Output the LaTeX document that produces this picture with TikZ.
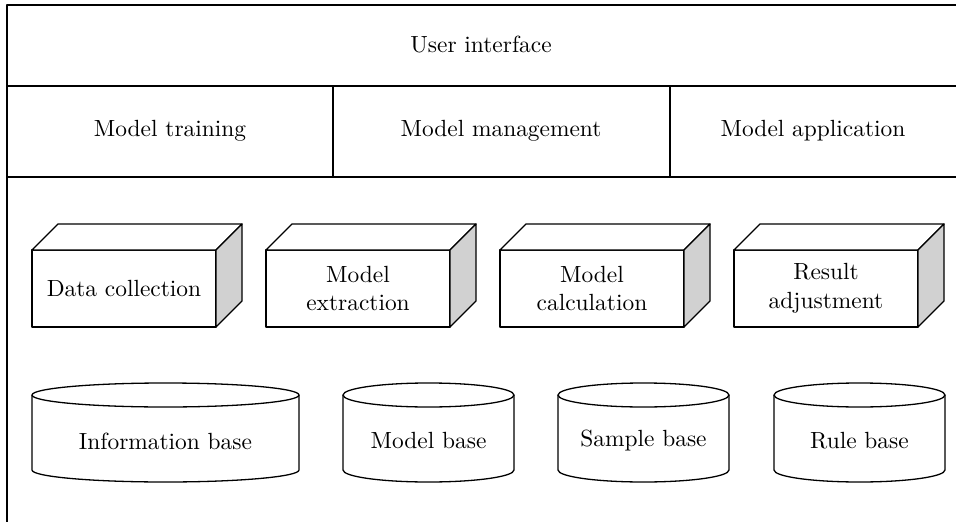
\documentclass[tikz,border=0pt]{standalone}
\usepackage{fontspec}
\newfontfamily\diagfont{lmroman10-regular.otf}
\begin{document}
\begin{tikzpicture}[
  x=1pt,
  y=-1pt,
  line join=round,
  frame line/.style={draw=black, line width=1.6pt},
  layer label/.style={font=\diagfont\fontsize{23.4}{28}\selectfont, inner sep=0pt},
  box front/.style={draw=black, fill=white, line width=1.3pt, outer sep=0pt,
    minimum width=184pt, minimum height=77pt, align=center,
    font=\diagfont\fontsize{23.4}{28.5}\selectfont},
  box top/.style={draw=black, fill=white, line width=1.3pt},
  box side/.style={draw=black, fill=black!18, line width=1.3pt},
  base drum/.style={draw=black, fill=white, line width=1.3pt}
]
  \useasboundingbox (0,0) rectangle (956,522);

  % Layered frame: interface on top, the three model functions below it.
  \draw[frame line] (956,5) -- (7,5) -- (7,522);
  \draw[frame line] (7,86) -- (956,86);
  \draw[frame line] (7,177) -- (956,177);
  \draw[frame line] (333,86) -- (333,177);
  \draw[frame line] (670,86) -- (670,177);

  \node[layer label] (ui) at (481,45) {User interface};
  \node[layer label] (train) at (170,131) {Model training};
  \node[layer label] (manage) at (501,131) {Model management};
  \node[layer label] (apply) at (813,131) {Model application};

  % Processing modules drawn as boxes.
  \node[box front] (collect) at (124,288.5) {Data collection};
  \node[box front] (extract) at (358,288.5) {Model\\extraction};
  \node[box front] (calc) at (592,288.5) {Model\\calculation};
  \node[box front] (adjust) at (826,288.5) {Result\\adjustment};

  \foreach \boxid in {collect, extract, calc, adjust} {
    \draw[box top] (\boxid.north west) -- ++(26,-26) -- ++(184,0)
      -- (\boxid.north east) -- cycle;
    \draw[box side] (\boxid.north east) -- ++(26,-26) -- ++(0,77)
      -- (\boxid.south east) -- cycle;
  }

  % Storage bases drawn as drums.
  \foreach \xl/\xr/\baseid in {32/299/info, 343/514/modelbase,
                               558/729/sample, 774/945/rule} {
    \pgfmathsetmacro{\xc}{(\xl+\xr)/2}
    \pgfmathsetmacro{\rx}{(\xr-\xl)/2}
    \draw[base drum] (\xl,395) -- (\xl,470)
      arc[start angle=180, end angle=0, x radius=\rx, y radius=12]
      -- (\xr,395);
    \draw[base drum] (\xc,395) ellipse[x radius=\rx, y radius=12];
    \coordinate (\baseid) at (\xc,441);
  }
  \node[layer label] (infotext) at (info) {Information base};
  \node[layer label] (modeltext) at (modelbase) {Model base};
  \node[layer label] (sampletext) at (sample) {Sample base};
  \node[layer label] (ruletext) at (rule) {Rule base};
\end{tikzpicture}
\end{document}
